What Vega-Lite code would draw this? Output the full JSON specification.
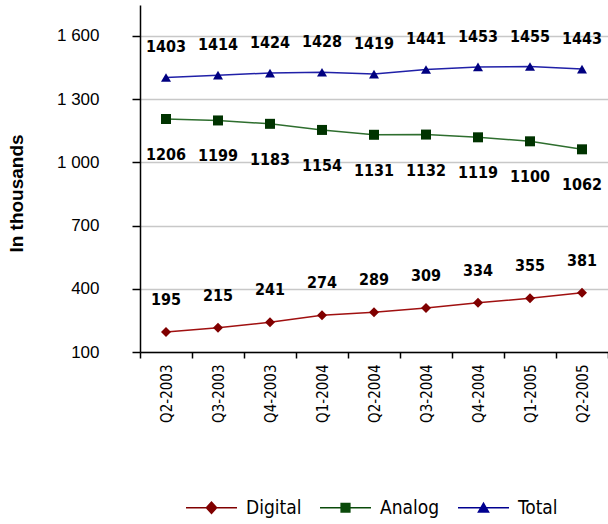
{
  "$schema": "https://vega.github.io/schema/vega-lite/v6.json",
  "width": 468,
  "height": 347,
  "autosize": "none",
  "padding": {"left": 140, "top": 5, "right": 0, "bottom": 172},
  "background": "white",
  "config": {"view": {"stroke": null}, "font": "Liberation Sans"},
  "data": {
    "values": [
      {"quarter": "Q2-2003", "series": "Digital", "value": 195},
      {"quarter": "Q3-2003", "series": "Digital", "value": 215},
      {"quarter": "Q4-2003", "series": "Digital", "value": 241},
      {"quarter": "Q1-2004", "series": "Digital", "value": 274},
      {"quarter": "Q2-2004", "series": "Digital", "value": 289},
      {"quarter": "Q3-2004", "series": "Digital", "value": 309},
      {"quarter": "Q4-2004", "series": "Digital", "value": 334},
      {"quarter": "Q1-2005", "series": "Digital", "value": 355},
      {"quarter": "Q2-2005", "series": "Digital", "value": 381},
      {"quarter": "Q2-2003", "series": "Analog", "value": 1206},
      {"quarter": "Q3-2003", "series": "Analog", "value": 1199},
      {"quarter": "Q4-2003", "series": "Analog", "value": 1183},
      {"quarter": "Q1-2004", "series": "Analog", "value": 1154},
      {"quarter": "Q2-2004", "series": "Analog", "value": 1131},
      {"quarter": "Q3-2004", "series": "Analog", "value": 1132},
      {"quarter": "Q4-2004", "series": "Analog", "value": 1119},
      {"quarter": "Q1-2005", "series": "Analog", "value": 1100},
      {"quarter": "Q2-2005", "series": "Analog", "value": 1062},
      {"quarter": "Q2-2003", "series": "Total", "value": 1403},
      {"quarter": "Q3-2003", "series": "Total", "value": 1414},
      {"quarter": "Q4-2003", "series": "Total", "value": 1424},
      {"quarter": "Q1-2004", "series": "Total", "value": 1428},
      {"quarter": "Q2-2004", "series": "Total", "value": 1419},
      {"quarter": "Q3-2004", "series": "Total", "value": 1441},
      {"quarter": "Q4-2004", "series": "Total", "value": 1453},
      {"quarter": "Q1-2005", "series": "Total", "value": 1455},
      {"quarter": "Q2-2005", "series": "Total", "value": 1443}
    ]
  },
  "encoding": {
    "x": {
      "field": "quarter",
      "type": "ordinal",
      "sort": ["Q2-2003", "Q3-2003", "Q4-2003", "Q1-2004", "Q2-2004", "Q3-2004", "Q4-2004", "Q1-2005", "Q2-2005"],
      "bandPosition": 0.5,
      "scale": {"type": "band", "paddingInner": 0, "paddingOuter": 0},
      "axis": {
        "title": null,
        "labelAngle": 270,
        "labelAlign": "right",
        "labelBaseline": "middle",
        "labelFontSize": 15,
        "labelFont": "DejaVu Sans Condensed",
        "labelColor": "black",
        "labelPadding": 6,
        "tickBand": "extent",
        "tickSize": 6,
        "tickColor": "black",
        "tickWidth": 1.5,
        "domainColor": "black",
        "domainWidth": 1.5,
        "grid": false
      }
    },
    "y": {
      "field": "value",
      "type": "quantitative",
      "scale": {"domain": [100, 1747], "nice": false, "zero": false},
      "axis": {
        "values": [100, 400, 700, 1000, 1300, 1600],
        "format": ",d",
        "labelExpr": "replace(datum.label, ',', ' ')",
        "labelFontSize": 17,
        "labelColor": "black",
        "labelPadding": 33,
        "tickSize": 8,
        "tickColor": "black",
        "tickWidth": 1.5,
        "domainColor": "black",
        "domainWidth": 1.5,
        "grid": true,
        "gridColor": "#c8c8c8",
        "gridWidth": 1.5,
        "title": "In thousands",
        "titleFontSize": 19,
        "titleFontWeight": "bold",
        "titleColor": "black",
        "titleY": 188,
        "titleX": -114
      }
    }
  },
  "layer": [
    {
      "mark": {"type": "line", "strokeWidth": 1.5},
      "encoding": {
        "color": {
          "field": "series",
          "type": "nominal",
          "scale": {"domain": ["Digital", "Analog", "Total"], "range": ["#a01010", "#2e6e2e", "#2020a8"]},
          "legend": null
        }
      }
    },
    {
      "mark": {"type": "point", "filled": true, "opacity": 1, "size": 100},
      "encoding": {
        "shape": {
          "field": "series",
          "type": "nominal",
          "scale": {"domain": ["Digital", "Analog", "Total"], "range": ["diamond", "square", "triangle-up"]},
          "legend": null
        },
        "color": {
          "field": "series",
          "type": "nominal",
          "scale": {"domain": ["Digital", "Analog", "Total"], "range": ["#800000", "#003300", "#000080"]},
          "legend": null
        }
      }
    },
    {
      "mark": {"type": "point", "filled": true, "opacity": 0, "size": 0},
      "encoding": {
        "shape": {
          "field": "series",
          "type": "nominal",
          "scale": {"domain": ["Digital", "Analog", "Total"], "range": [
            "M-1,-0.03H1V0.03H-1Z M0,-0.26L0.24,0L0,0.26L-0.24,0Z",
            "M-1,-0.03H1V0.03H-1Z M-0.2,-0.2H0.2V0.2H-0.2Z",
            "M-1,-0.03H1V0.03H-1Z M0,-0.24L0.25,0.2H-0.25Z"
          ]},
          "legend": {
            "title": null,
            "orient": "none",
            "legendX": 46,
            "legendY": 477,
            "direction": "horizontal",
            "symbolSize": 2600,
            "symbolOpacity": 1,
            "symbolStrokeWidth": 0,
            "labelFontSize": 19,
            "labelFont": "DejaVu Sans Condensed",
            "labelColor": "black",
            "labelOffset": 9,
            "columnPadding": 18
          }
        },
        "color": {
          "field": "series",
          "type": "nominal",
          "scale": {"domain": ["Digital", "Analog", "Total"], "range": ["#800000", "#0a4a0a", "#000090"]},
          "legend": {
            "title": null,
            "orient": "none",
            "legendX": 46,
            "legendY": 477,
            "direction": "horizontal",
            "symbolSize": 2600,
            "symbolOpacity": 1,
            "symbolStrokeWidth": 0,
            "labelFontSize": 19,
            "labelFont": "DejaVu Sans Condensed",
            "labelColor": "black",
            "labelOffset": 9,
            "columnPadding": 18
          }
        }
      }
    },
    {
      "transform": [{"filter": "datum.series === 'Total'"}],
      "mark": {"type": "text", "dy": -30, "fontWeight": "bold", "fontSize": 16, "font": "DejaVu Sans Condensed", "color": "black"},
      "encoding": {"text": {"field": "value", "type": "quantitative"}}
    },
    {
      "transform": [{"filter": "datum.series === 'Analog'"}],
      "mark": {"type": "text", "dy": 36, "fontWeight": "bold", "fontSize": 16, "font": "DejaVu Sans Condensed", "color": "black"},
      "encoding": {"text": {"field": "value", "type": "quantitative"}}
    },
    {
      "transform": [{"filter": "datum.series === 'Digital'"}],
      "mark": {"type": "text", "dy": -32, "fontWeight": "bold", "fontSize": 16, "font": "DejaVu Sans Condensed", "color": "black"},
      "encoding": {"text": {"field": "value", "type": "quantitative"}}
    }
  ],
  "resolve": {"scale": {"color": "independent", "shape": "independent"}}
}
